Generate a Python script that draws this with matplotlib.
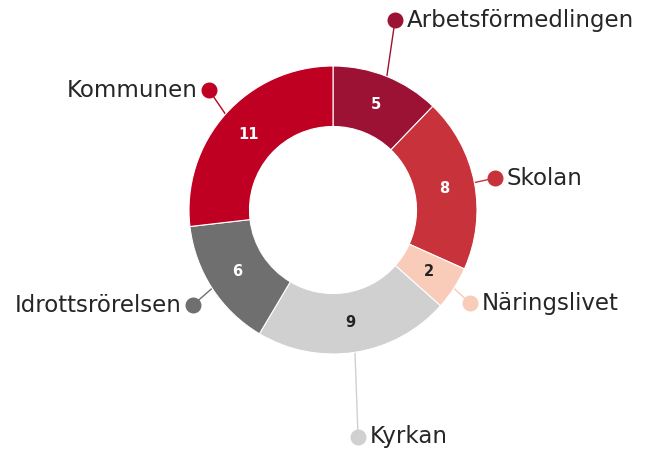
import numpy as np
import matplotlib.pyplot as plt

labels = ["Arbetsförmedlingen", "Skolan", "Näringslivet", "Kyrkan", "Idrottsrörelsen", "Kommunen"]
values = [5, 8, 2, 9, 6, 11]
colors = ["#9b1235", "#c8323a", "#f9cbb9", "#d0d0d0", "#6f6f6f", "#bf0022"]
value_colors = ["white", "white", "#222222", "#222222", "white", "white"]

# where each outside label dot sits (data units, ring radius = 1)
label_pos = [(0.431, 1.319), (1.125, 0.222), (0.951, -0.646),
             (0.174, -1.576), (-0.972, -0.660), (-0.861, 0.833)]

fig = plt.figure(figsize=(6.46, 4.51), dpi=100)
ax = fig.add_axes([0, 0, 1, 1])

wedges, _ = ax.pie(values, colors=colors, startangle=90, counterclock=False,
                   radius=1, wedgeprops=dict(width=0.42, edgecolor="white", linewidth=0.8))

total = sum(values)
start = 0
for i, w in enumerate(wedges):
    mid = (start + values[i] / 2) / total * 2 * np.pi
    start += values[i]
    sx, sy = np.sin(mid), np.cos(mid)
    # value inside ring
    ax.text(0.79 * sx, 0.79 * sy, str(values[i]), ha="center", va="center",
            fontsize=10.5, fontweight="bold", color=value_colors[i])
    # connector + dot + label
    lx, ly = label_pos[i]
    ax.plot([sx, lx], [sy, ly], color=colors[i], lw=1, zorder=0)
    ax.plot(lx, ly, "o", color=colors[i], markersize=10.5)
    if lx > 0:
        ax.text(lx + 0.08, ly, labels[i], ha="left", va="center", fontsize=16.5,
                color="#262626")
    else:
        ax.text(lx - 0.08, ly, labels[i], ha="right", va="center", fontsize=16.5,
                color="#262626")

ax.set_xlim(-333 / 144, 313 / 144)
ax.set_ylim(-241 / 144, 210 / 144)
ax.set_aspect("equal")
ax.axis("off")

plt.savefig("out.png", dpi=100)
